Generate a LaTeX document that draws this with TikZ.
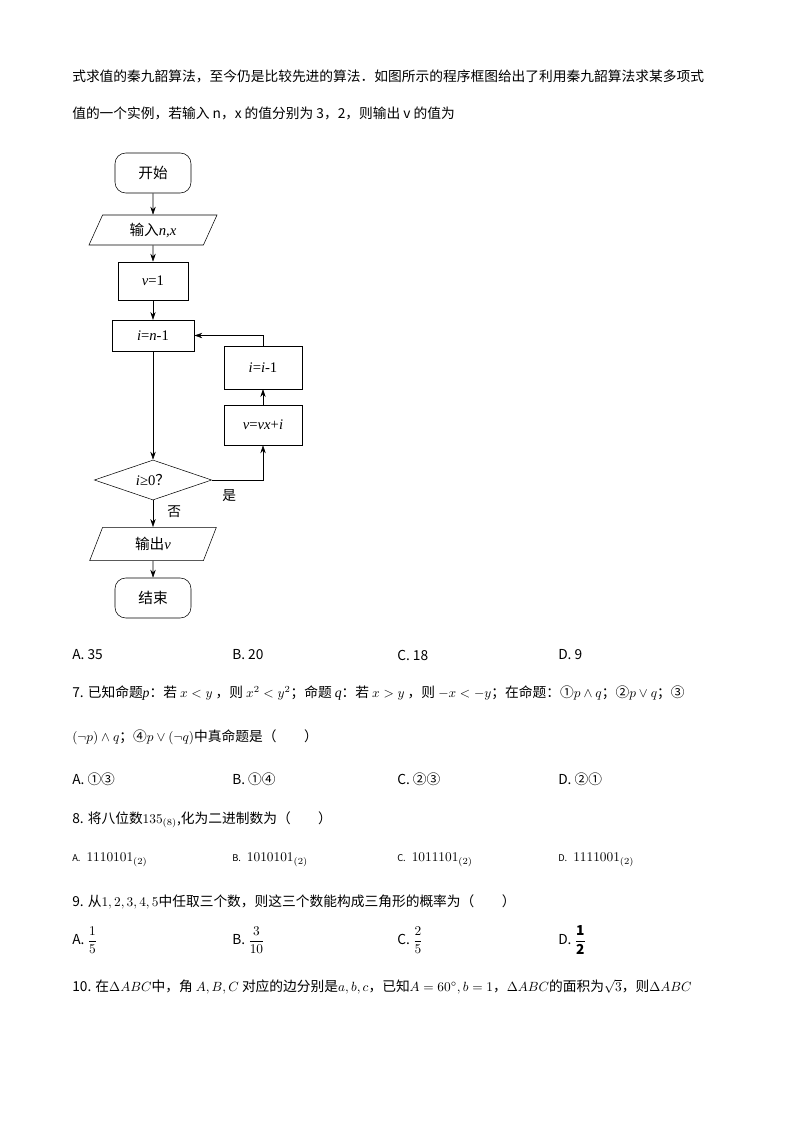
\documentclass[tikz,border=0pt]{standalone}
\usepackage{fontspec}
\setmainfont{Noto Sans CJK SC}
\newfontfamily\ser{Liberation Serif}
\usetikzlibrary{shapes.geometric,arrows.meta}
\begin{document}
\begin{tikzpicture}[x=0.75pt,y=-0.75pt,
  txt/.style={anchor=west,inner sep=0pt,font=\fontsize{10.3pt}{12pt}\selectfont},
  fbox/.style={draw,minimum width=#1*0.75pt,inner sep=0pt,font=\fontsize{11pt}{12pt}\selectfont},
  arr/.style={-{Stealth[length=6pt,width=4pt]}},
  lnk/.style={draw,line width=0.6pt}]
\useasboundingbox (0,0) rectangle (794,1123);
\fill[white] (0,0) rectangle (794,1123);
% text
\node[txt] (l1) at (72,76) {式求值的秦九韶算法，至今仍是比较先进的算法．如图所示的程序框图给出了利用秦九韶算法求某多项式};
\node[txt] (l2) at (72,113) {值的一个实例，若输入 n，x 的值分别为 3，2，则输出 v 的值为};
% flowchart
\node[draw,rounded corners=8pt,minimum width=57pt,minimum height=30pt,font=\fontsize{11pt}{12pt}\selectfont] (st) at (153,173) {开始};
\node[draw,trapezium,trapezium left angle=60,trapezium right angle=120,minimum height=22.5pt,minimum width=96pt,trapezium stretches body,font=\fontsize{11pt}{12pt}\selectfont] (in) at (153,230) {输入{\ser\itshape n,x}};
\node[fbox=70,minimum height=28.5pt] (v1) at (153,281) {{\ser\itshape v}{\ser =1}};
\node[fbox=82,minimum height=23pt] (i1) at (153,335.5) {{\ser\itshape i}{\ser =}{\ser\itshape n}{\ser -1}};
\node[fbox=78,minimum height=32pt] (ii) at (263,367.5) {{\ser\itshape i}{\ser =}{\ser\itshape i}{\ser -1}};
\node[fbox=78,minimum height=30pt] (vv) at (263,425) {{\ser\itshape v}{\ser =}{\ser\itshape vx}{\ser +}{\ser\itshape i}};
\node[draw,diamond,aspect=2.9,minimum width=88pt,minimum height=30pt,inner sep=0pt,font=\fontsize{11pt}{12pt}\selectfont] (d) at (153,480) {{\ser\itshape i}{\ser ≥0}？};
\node[draw,trapezium,trapezium left angle=60,trapezium right angle=120,minimum height=25pt,minimum width=95pt,trapezium stretches body,font=\fontsize{11pt}{12pt}\selectfont] (out) at (153,544) {输出{\ser\itshape v}};
\node[draw,rounded corners=8pt,minimum width=57pt,minimum height=30pt,font=\fontsize{11pt}{12pt}\selectfont] (en) at (153,598) {结束};
\draw[arr] (st) -- (in);
\draw[arr] (in) -- (v1);
\draw[arr] (v1) -- (i1);
\draw[arr] (i1) -- (d);
\draw[arr] (d) -- (out);
\draw[arr] (out) -- (en);
\draw[arr] (d.east) -| (vv.south);
\draw[arr] (vv) -- (ii);
\draw[arr] (ii.north) |- (i1.east);
\node[txt] (yes) at (222,496) {是};
\node[txt] (no) at (167,512) {否};
% options
\node[txt] (a6) at (72,655) {A. 35};
\node[txt] (b6) at (232,655) {B. 20};
\node[txt] (c6) at (397,655) {C. 18};
\node[txt] (d6) at (558,655) {D. 9};
\node[txt] (q7) at (72,693) {7. 已知命题{\ser\itshape p}：若 $x<y$ ，则 $x^2<y^2$；命题 {\ser\itshape q}：若 $x>y$ ，则 $-x<-y$；在命题：①$p\wedge q$；②$p\vee q$；③};
\node[txt] (q7b) at (72,737) {$(\neg p)\wedge q$；④$p\vee(\neg q)$中真命题是（　　）};
\node[txt] (a7) at (72,779) {A. ①③};
\node[txt] (b7) at (232,779) {B. ①④};
\node[txt] (c7) at (397,779) {C. ②③};
\node[txt] (d7) at (558,779) {D. ②①};
\node[txt] (q8) at (72,820) {8. 将八位数$135_{(8)}$,化为二进制数为（　　）};
\node[txt] (a8) at (72,860) {\scriptsize A.\normalsize\ \ $1110101_{(2)}$};
\node[txt] (b8) at (232,860) {\scriptsize B.\normalsize\ \ $1010101_{(2)}$};
\node[txt] (c8) at (397,860) {\scriptsize C.\normalsize\ \ $1011101_{(2)}$};
\node[txt] (d8) at (558,860) {\scriptsize D.\normalsize\ \ $1111001_{(2)}$};
\node[txt] (q9) at (72,902) {9. 从$1,2,3,4,5$中任取三个数，则这三个数能构成三角形的概率为（　　）};
\node[txt] (a9) at (72,940) {A. $\displaystyle\frac{1}{5}$};
\node[txt] (b9) at (232,940) {B. $\displaystyle\frac{3}{10}$};
\node[txt] (c9) at (397,940) {C. $\displaystyle\frac{2}{5}$};
\node[txt] (d9) at (558,940) {D. $\displaystyle\frac{\mathbf 1}{\mathbf 2}$};
\node[txt] (q10) at (72,987) {10. 在$\Delta ABC$中，角 $A,B,C$ 对应的边分别是$a,b,c$，已知$A=60^\circ,b=1$，$\Delta ABC$的面积为$\sqrt{3}$，则$\Delta ABC$};
\end{tikzpicture}
\end{document}
